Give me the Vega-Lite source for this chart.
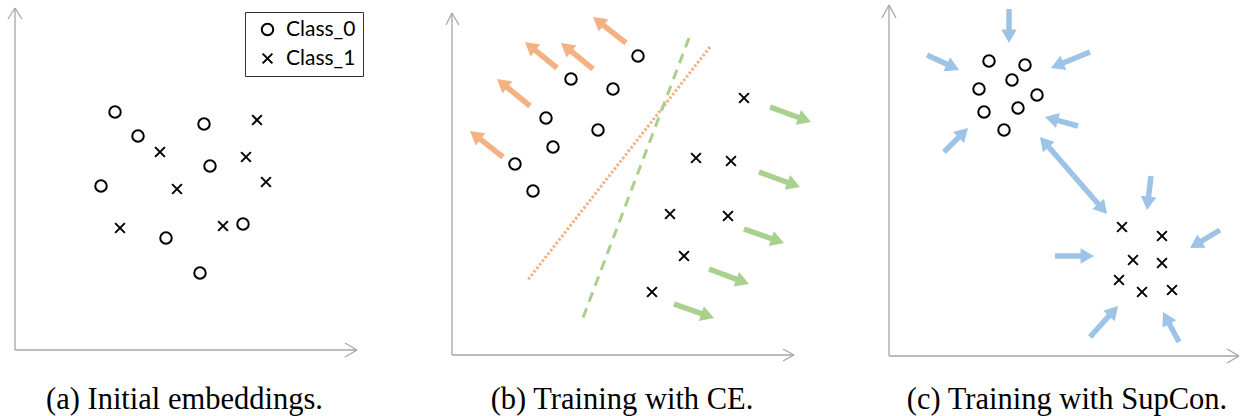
{
  "$schema": "https://vega.github.io/schema/vega-lite/v6.json",
  "background": "white",
  "padding": 0,
  "spacing": 0,
  "config": {"view": {"stroke": null}, "concat": {"spacing": 0}},
  "resolve": {
    "scale": {"x": "independent", "y": "independent", "shape": "independent", "color": "independent"},
    "legend": {"shape": "independent", "color": "independent"}
  },
  "datasets": {
    "axes": [
      {"panel": "a", "x": 15, "y": 8, "x2": 15, "y2": 350},
      {"panel": "a", "x": 15, "y": 350, "x2": 357, "y2": 350},
      {"panel": "a", "x": 15, "y": 8, "x2": 8, "y2": 19},
      {"panel": "a", "x": 15, "y": 8, "x2": 22, "y2": 19},
      {"panel": "a", "x": 357, "y": 350, "x2": 345, "y2": 343},
      {"panel": "a", "x": 357, "y": 350, "x2": 345, "y2": 357},
      {"panel": "b", "x": 452, "y": 13, "x2": 452, "y2": 355},
      {"panel": "b", "x": 452, "y": 355, "x2": 794, "y2": 355},
      {"panel": "b", "x": 452, "y": 13, "x2": 446, "y2": 25},
      {"panel": "b", "x": 452, "y": 13, "x2": 459, "y2": 25},
      {"panel": "b", "x": 794, "y": 355, "x2": 783, "y2": 349},
      {"panel": "b", "x": 794, "y": 355, "x2": 783, "y2": 361},
      {"panel": "c", "x": 889, "y": 5, "x2": 889, "y2": 356},
      {"panel": "c", "x": 889, "y": 356, "x2": 1239, "y2": 356},
      {"panel": "c", "x": 889, "y": 5, "x2": 882, "y2": 18},
      {"panel": "c", "x": 889, "y": 5, "x2": 896, "y2": 18},
      {"panel": "c", "x": 1239, "y": 356, "x2": 1227, "y2": 349},
      {"panel": "c", "x": 1239, "y": 356, "x2": 1227, "y2": 363}
    ],
    "points": [
      {"panel": "a", "cls": "Class_0", "x": 115, "y": 112},
      {"panel": "a", "cls": "Class_0", "x": 138, "y": 136},
      {"panel": "a", "cls": "Class_0", "x": 204, "y": 124},
      {"panel": "a", "cls": "Class_0", "x": 210, "y": 166},
      {"panel": "a", "cls": "Class_0", "x": 101, "y": 186},
      {"panel": "a", "cls": "Class_0", "x": 166, "y": 238},
      {"panel": "a", "cls": "Class_0", "x": 243, "y": 224},
      {"panel": "a", "cls": "Class_0", "x": 200, "y": 273},
      {"panel": "a", "cls": "Class_1", "x": 257, "y": 120},
      {"panel": "a", "cls": "Class_1", "x": 160, "y": 152},
      {"panel": "a", "cls": "Class_1", "x": 246, "y": 157},
      {"panel": "a", "cls": "Class_1", "x": 177, "y": 189},
      {"panel": "a", "cls": "Class_1", "x": 266, "y": 182},
      {"panel": "a", "cls": "Class_1", "x": 120, "y": 228},
      {"panel": "a", "cls": "Class_1", "x": 223, "y": 226},
      {"panel": "b", "cls": "Class_0", "x": 638, "y": 56},
      {"panel": "b", "cls": "Class_0", "x": 571, "y": 79},
      {"panel": "b", "cls": "Class_0", "x": 613, "y": 89},
      {"panel": "b", "cls": "Class_0", "x": 546, "y": 118},
      {"panel": "b", "cls": "Class_0", "x": 598, "y": 130},
      {"panel": "b", "cls": "Class_0", "x": 553, "y": 147},
      {"panel": "b", "cls": "Class_0", "x": 515, "y": 164},
      {"panel": "b", "cls": "Class_0", "x": 533, "y": 191},
      {"panel": "b", "cls": "Class_1", "x": 744, "y": 98},
      {"panel": "b", "cls": "Class_1", "x": 696, "y": 158},
      {"panel": "b", "cls": "Class_1", "x": 731, "y": 161},
      {"panel": "b", "cls": "Class_1", "x": 670, "y": 214},
      {"panel": "b", "cls": "Class_1", "x": 728, "y": 216},
      {"panel": "b", "cls": "Class_1", "x": 684, "y": 256},
      {"panel": "b", "cls": "Class_1", "x": 652, "y": 292},
      {"panel": "c", "cls": "Class_0", "x": 989, "y": 61},
      {"panel": "c", "cls": "Class_0", "x": 1025, "y": 65},
      {"panel": "c", "cls": "Class_0", "x": 1012, "y": 80},
      {"panel": "c", "cls": "Class_0", "x": 979, "y": 89},
      {"panel": "c", "cls": "Class_0", "x": 1037, "y": 95},
      {"panel": "c", "cls": "Class_0", "x": 984, "y": 112},
      {"panel": "c", "cls": "Class_0", "x": 1018, "y": 108},
      {"panel": "c", "cls": "Class_0", "x": 1004, "y": 130},
      {"panel": "c", "cls": "Class_1", "x": 1122, "y": 227},
      {"panel": "c", "cls": "Class_1", "x": 1162, "y": 236},
      {"panel": "c", "cls": "Class_1", "x": 1133, "y": 260},
      {"panel": "c", "cls": "Class_1", "x": 1162, "y": 263},
      {"panel": "c", "cls": "Class_1", "x": 1119, "y": 280},
      {"panel": "c", "cls": "Class_1", "x": 1142, "y": 292},
      {"panel": "c", "cls": "Class_1", "x": 1172, "y": 290}
    ],
    "arrows": [
      {"panel": "b", "kind": "CE_Class_0", "x": 626, "y": 43, "x2": 593, "y2": 17},
      {"panel": "b", "kind": "CE_Class_0", "x": 593, "y": 69, "x2": 561, "y2": 43},
      {"panel": "b", "kind": "CE_Class_0", "x": 557, "y": 68, "x2": 525, "y2": 42},
      {"panel": "b", "kind": "CE_Class_0", "x": 530, "y": 106, "x2": 497, "y2": 79},
      {"panel": "b", "kind": "CE_Class_0", "x": 503, "y": 157, "x2": 470, "y2": 131},
      {"panel": "b", "kind": "CE_Class_1", "x": 770, "y": 107, "x2": 811, "y2": 122},
      {"panel": "b", "kind": "CE_Class_1", "x": 759, "y": 172, "x2": 800, "y2": 187},
      {"panel": "b", "kind": "CE_Class_1", "x": 744, "y": 229, "x2": 784, "y2": 243},
      {"panel": "b", "kind": "CE_Class_1", "x": 709, "y": 269, "x2": 749, "y2": 284},
      {"panel": "b", "kind": "CE_Class_1", "x": 674, "y": 304, "x2": 714, "y2": 318},
      {"panel": "c", "kind": "SupCon", "x": 1009, "y": 9, "x2": 1009, "y2": 43},
      {"panel": "c", "kind": "SupCon", "x": 927, "y": 55, "x2": 959, "y2": 70},
      {"panel": "c", "kind": "SupCon", "x": 1090, "y": 52, "x2": 1051, "y2": 68},
      {"panel": "c", "kind": "SupCon", "x": 1078, "y": 126, "x2": 1045, "y2": 117},
      {"panel": "c", "kind": "SupCon", "x": 944, "y": 152, "x2": 968, "y2": 128},
      {"panel": "c", "kind": "SupCon", "x": 1073.5, "y": 175.5, "x2": 1040, "y2": 137},
      {"panel": "c", "kind": "SupCon", "x": 1073.5, "y": 175.5, "x2": 1107, "y2": 214},
      {"panel": "c", "kind": "SupCon", "x": 1151, "y": 176, "x2": 1147, "y2": 210},
      {"panel": "c", "kind": "SupCon", "x": 1220, "y": 230, "x2": 1190, "y2": 248},
      {"panel": "c", "kind": "SupCon", "x": 1055, "y": 256, "x2": 1094, "y2": 256},
      {"panel": "c", "kind": "SupCon", "x": 1090, "y": 337, "x2": 1118, "y2": 306},
      {"panel": "c", "kind": "SupCon", "x": 1179, "y": 342, "x2": 1163, "y2": 312}
    ],
    "boundaries": [
      {"panel": "b", "kind": "dashed", "x": 689, "y": 38, "x2": 581, "y2": 323},
      {"panel": "b", "kind": "dotted", "x": 710, "y": 47, "x2": 527, "y2": 281}
    ],
    "captions": [
      {"panel": "a", "text": "(a) Initial embeddings.", "x": 184.5, "y": 409},
      {"panel": "b", "text": "(b) Training with CE.", "x": 622, "y": 409},
      {"panel": "c", "text": "(c) Training with SupCon.", "x": 1067, "y": 409}
    ]
  },
  "hconcat": [
    {
      "width": 420,
      "height": 416,
      "layer": [
        {
          "data": {"name": "axes"},
          "transform": [{"filter": "datum.panel === 'a'"}],
          "mark": {"type": "rule", "color": "#a6a6a6", "strokeWidth": 1.3},
          "encoding": {
            "x": {"field": "x", "type": "quantitative", "scale": {"domain": [0, 420], "nice": false, "zero": false}, "axis": null},
            "y": {"field": "y", "type": "quantitative", "scale": {"domain": [0, 416], "reverse": true, "nice": false, "zero": false}, "axis": null},
            "x2": {"field": "x2"},
            "y2": {"field": "y2"}
          }
        },
        {
          "data": {"name": "points"},
          "transform": [{"filter": "datum.panel === 'a'"}],
          "mark": {"type": "point", "filled": false, "color": "black", "strokeWidth": 2, "size": 132, "opacity": 1},
          "encoding": {
            "x": {"field": "x", "type": "quantitative", "scale": {"domain": [0, 420], "nice": false, "zero": false}, "axis": null},
            "y": {"field": "y", "type": "quantitative", "scale": {"domain": [0, 416], "reverse": true, "nice": false, "zero": false}, "axis": null},
            "shape": {
              "field": "cls", "type": "nominal",
              "scale": {"domain": ["Class_0", "Class_1"], "range": ["circle", "M-0.85,-0.85L0.85,0.85M-0.85,0.85L0.85,-0.85"]},
              "legend": {
                "title": null, "orient": "none", "legendX": 245, "legendY": 12,
                "strokeColor": "#333333", "padding": 7, "rowPadding": 7,
                "labelFont": "Lato", "labelFontSize": 21, "labelColor": "black", "labelOffset": 8,
                "symbolSize": 132, "symbolStrokeWidth": 2, "symbolStrokeColor": "black", "symbolFillColor": "transparent", "symbolOffset": 5
              }
            }
          }
        },
        {
          "data": {"name": "captions"},
          "transform": [{"filter": "datum.panel === 'a'"}],
          "mark": {"type": "text", "font": "'Liberation Serif', 'DejaVu Serif', serif", "fontSize": 30.5, "baseline": "alphabetic", "align": "center", "color": "black"},
          "encoding": {
            "x": {"field": "x", "type": "quantitative", "scale": {"domain": [0, 420], "nice": false, "zero": false}, "axis": null},
            "y": {"field": "y", "type": "quantitative", "scale": {"domain": [0, 416], "reverse": true, "nice": false, "zero": false}, "axis": null},
            "text": {"field": "text"}
          }
        }
      ]
    },
    {
      "width": 420,
      "height": 416,
      "layer": [
        {
          "data": {"name": "axes"},
          "transform": [{"filter": "datum.panel === 'b'"}],
          "mark": {"type": "rule", "color": "#a6a6a6", "strokeWidth": 1.3},
          "encoding": {
            "x": {"field": "x", "type": "quantitative", "scale": {"domain": [420, 840], "nice": false, "zero": false}, "axis": null},
            "y": {"field": "y", "type": "quantitative", "scale": {"domain": [0, 416], "reverse": true, "nice": false, "zero": false}, "axis": null},
            "x2": {"field": "x2"},
            "y2": {"field": "y2"}
          }
        },
        {
          "data": {"name": "boundaries"},
          "transform": [{"filter": "datum.kind === 'dotted'"}],
          "mark": {"type": "rule", "color": "#f4b183", "strokeWidth": 3, "strokeDash": [2.5, 2]},
          "encoding": {
            "x": {"field": "x", "type": "quantitative", "scale": {"domain": [420, 840], "nice": false, "zero": false}, "axis": null},
            "y": {"field": "y", "type": "quantitative", "scale": {"domain": [0, 416], "reverse": true, "nice": false, "zero": false}, "axis": null},
            "x2": {"field": "x2"},
            "y2": {"field": "y2"}
          }
        },
        {
          "data": {"name": "boundaries"},
          "transform": [{"filter": "datum.kind === 'dashed'"}],
          "mark": {"type": "rule", "color": "#a9d18e", "strokeWidth": 3, "strokeDash": [10, 7]},
          "encoding": {
            "x": {"field": "x", "type": "quantitative", "scale": {"domain": [420, 840], "nice": false, "zero": false}, "axis": null},
            "y": {"field": "y", "type": "quantitative", "scale": {"domain": [0, 416], "reverse": true, "nice": false, "zero": false}, "axis": null},
            "x2": {"field": "x2"},
            "y2": {"field": "y2"}
          }
        },
        {
          "data": {"name": "arrows"},
          "transform": [
            {"filter": "datum.panel === 'b'"},
            {"calculate": "sqrt(pow(datum.x2 - datum.x, 2) + pow(datum.y2 - datum.y, 2))", "as": "len"},
            {"calculate": "datum.x2 - 11 * (datum.x2 - datum.x) / datum.len", "as": "xs"},
            {"calculate": "datum.y2 - 11 * (datum.y2 - datum.y) / datum.len", "as": "ys"}
          ],
          "mark": {"type": "rule", "strokeWidth": 5.5, "strokeCap": "butt", "opacity": 1},
          "encoding": {
            "x": {"field": "x", "type": "quantitative", "scale": {"domain": [420, 840], "nice": false, "zero": false}, "axis": null},
            "y": {"field": "y", "type": "quantitative", "scale": {"domain": [0, 416], "reverse": true, "nice": false, "zero": false}, "axis": null},
            "x2": {"field": "xs"},
            "y2": {"field": "ys"},
            "color": {"field": "kind", "type": "nominal", "scale": {"domain": ["CE_Class_0", "CE_Class_1"], "range": ["#f4b183", "#a9d18e"]}, "legend": null}
          }
        },
        {
          "data": {"name": "arrows"},
          "transform": [
            {"filter": "datum.panel === 'b'"},
            {"calculate": "atan2(datum.x2 - datum.x, datum.y - datum.y2) * 180 / PI", "as": "ang"}
          ],
          "mark": {"type": "point", "shape": "M0,0L-0.58,1L0.58,1Z", "filled": true, "size": 720, "opacity": 1, "strokeWidth": 0},
          "encoding": {
            "x": {"field": "x2", "type": "quantitative", "scale": {"domain": [420, 840], "nice": false, "zero": false}, "axis": null},
            "y": {"field": "y2", "type": "quantitative", "scale": {"domain": [0, 416], "reverse": true, "nice": false, "zero": false}, "axis": null},
            "angle": {"field": "ang", "type": "quantitative", "scale": null},
            "color": {"field": "kind", "type": "nominal", "scale": {"domain": ["CE_Class_0", "CE_Class_1"], "range": ["#f4b183", "#a9d18e"]}, "legend": null}
          }
        },
        {
          "data": {"name": "points"},
          "transform": [{"filter": "datum.panel === 'b'"}],
          "mark": {"type": "point", "filled": false, "color": "black", "strokeWidth": 2, "size": 132, "opacity": 1},
          "encoding": {
            "x": {"field": "x", "type": "quantitative", "scale": {"domain": [420, 840], "nice": false, "zero": false}, "axis": null},
            "y": {"field": "y", "type": "quantitative", "scale": {"domain": [0, 416], "reverse": true, "nice": false, "zero": false}, "axis": null},
            "shape": {"field": "cls", "type": "nominal", "scale": {"domain": ["Class_0", "Class_1"], "range": ["circle", "M-0.85,-0.85L0.85,0.85M-0.85,0.85L0.85,-0.85"]}, "legend": null}
          }
        },
        {
          "data": {"name": "captions"},
          "transform": [{"filter": "datum.panel === 'b'"}],
          "mark": {"type": "text", "font": "'Liberation Serif', 'DejaVu Serif', serif", "fontSize": 30.5, "baseline": "alphabetic", "align": "center", "color": "black"},
          "encoding": {
            "x": {"field": "x", "type": "quantitative", "scale": {"domain": [420, 840], "nice": false, "zero": false}, "axis": null},
            "y": {"field": "y", "type": "quantitative", "scale": {"domain": [0, 416], "reverse": true, "nice": false, "zero": false}, "axis": null},
            "text": {"field": "text"}
          }
        }
      ]
    },
    {
      "width": 403,
      "height": 416,
      "layer": [
        {
          "data": {"name": "axes"},
          "transform": [{"filter": "datum.panel === 'c'"}],
          "mark": {"type": "rule", "color": "#a6a6a6", "strokeWidth": 1.3},
          "encoding": {
            "x": {"field": "x", "type": "quantitative", "scale": {"domain": [840, 1243], "nice": false, "zero": false}, "axis": null},
            "y": {"field": "y", "type": "quantitative", "scale": {"domain": [0, 416], "reverse": true, "nice": false, "zero": false}, "axis": null},
            "x2": {"field": "x2"},
            "y2": {"field": "y2"}
          }
        },
        {
          "data": {"name": "arrows"},
          "transform": [
            {"filter": "datum.panel === 'c'"},
            {"calculate": "sqrt(pow(datum.x2 - datum.x, 2) + pow(datum.y2 - datum.y, 2))", "as": "len"},
            {"calculate": "datum.x2 - 11 * (datum.x2 - datum.x) / datum.len", "as": "xs"},
            {"calculate": "datum.y2 - 11 * (datum.y2 - datum.y) / datum.len", "as": "ys"}
          ],
          "mark": {"type": "rule", "strokeWidth": 5.5, "strokeCap": "butt", "opacity": 1},
          "encoding": {
            "x": {"field": "x", "type": "quantitative", "scale": {"domain": [840, 1243], "nice": false, "zero": false}, "axis": null},
            "y": {"field": "y", "type": "quantitative", "scale": {"domain": [0, 416], "reverse": true, "nice": false, "zero": false}, "axis": null},
            "x2": {"field": "xs"},
            "y2": {"field": "ys"},
            "color": {"field": "kind", "type": "nominal", "scale": {"domain": ["SupCon"], "range": ["#9dc3e6"]}, "legend": null}
          }
        },
        {
          "data": {"name": "arrows"},
          "transform": [
            {"filter": "datum.panel === 'c'"},
            {"calculate": "atan2(datum.x2 - datum.x, datum.y - datum.y2) * 180 / PI", "as": "ang"}
          ],
          "mark": {"type": "point", "shape": "M0,0L-0.58,1L0.58,1Z", "filled": true, "size": 720, "opacity": 1, "strokeWidth": 0},
          "encoding": {
            "x": {"field": "x2", "type": "quantitative", "scale": {"domain": [840, 1243], "nice": false, "zero": false}, "axis": null},
            "y": {"field": "y2", "type": "quantitative", "scale": {"domain": [0, 416], "reverse": true, "nice": false, "zero": false}, "axis": null},
            "angle": {"field": "ang", "type": "quantitative", "scale": null},
            "color": {"field": "kind", "type": "nominal", "scale": {"domain": ["SupCon"], "range": ["#9dc3e6"]}, "legend": null}
          }
        },
        {
          "data": {"name": "points"},
          "transform": [{"filter": "datum.panel === 'c'"}],
          "mark": {"type": "point", "filled": false, "color": "black", "strokeWidth": 2, "size": 132, "opacity": 1},
          "encoding": {
            "x": {"field": "x", "type": "quantitative", "scale": {"domain": [840, 1243], "nice": false, "zero": false}, "axis": null},
            "y": {"field": "y", "type": "quantitative", "scale": {"domain": [0, 416], "reverse": true, "nice": false, "zero": false}, "axis": null},
            "shape": {"field": "cls", "type": "nominal", "scale": {"domain": ["Class_0", "Class_1"], "range": ["circle", "M-0.85,-0.85L0.85,0.85M-0.85,0.85L0.85,-0.85"]}, "legend": null}
          }
        },
        {
          "data": {"name": "captions"},
          "transform": [{"filter": "datum.panel === 'c'"}],
          "mark": {"type": "text", "font": "'Liberation Serif', 'DejaVu Serif', serif", "fontSize": 30.5, "baseline": "alphabetic", "align": "center", "color": "black"},
          "encoding": {
            "x": {"field": "x", "type": "quantitative", "scale": {"domain": [840, 1243], "nice": false, "zero": false}, "axis": null},
            "y": {"field": "y", "type": "quantitative", "scale": {"domain": [0, 416], "reverse": true, "nice": false, "zero": false}, "axis": null},
            "text": {"field": "text"}
          }
        }
      ]
    }
  ]
}
